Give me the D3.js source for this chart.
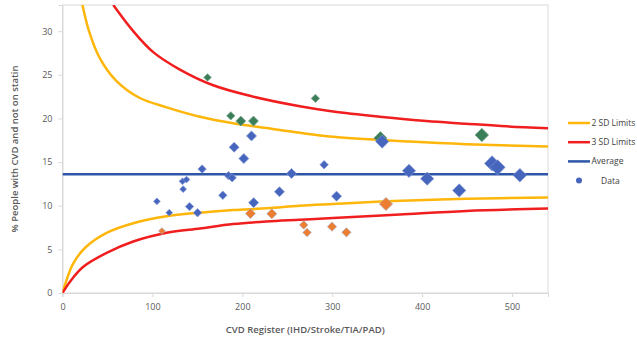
<!DOCTYPE html>
<html>
<head>
<meta charset="UTF-8">
<title>Funnel plot</title>
<script src="https://cdn.jsdelivr.net/npm/d3@7"></script>
<style>
    body { margin: 0; background: #fff; }
    text { font-family: "Open Sans", "Noto Sans", sans-serif; }
    .tick text { fill: #595959; font-size: 9px; }
    .axis-title { fill: #595959; font-size: 9.5px; font-weight: 600; }
    .legend text { fill: #404040; font-size: 8.5px; }
</style>
</head>
<body>
<svg width="637" height="343"></svg>
<script>

// data

var regSize  = [105, 110.6, 118.7, 133.5, 134.2, 137.9, 141.3, 150.2, 155.3, 161.3,
                178.3, 184.6, 188.7, 187.2, 190.9, 198.3, 201.7, 209, 210.2, 212.4,
                212.6, 232.8, 241.3, 254.7, 268.3, 272, 281.3, 291, 299.8, 304.8,
                315.8, 353.6, 355.6, 359.8, 385.4, 405.6, 441.3, 466.4, 477.8, 483.9, 508.7];
var pctNoStatin = [10.5, 7.1, 9.2, 12.8, 11.9, 13.0, 9.9, 9.2, 14.2, 24.7,
                11.2, 13.45, 13.2, 20.3, 16.7, 19.7, 15.4, 9.1, 18.0, 19.7,
                10.35, 9.07, 11.6, 13.7, 7.8, 6.93, 22.3, 14.7, 7.6, 11.1,
                6.95, 17.75, 17.35, 10.2, 14.0, 13.1, 11.75, 18.1, 14.85, 14.4, 13.5];
// marker weight (relative size of the diamond, 1 = smallest)
var weight = [1, 1, 1, 1, 1, 1, 2, 2, 2, 1.5,
                2, 2, 2, 2, 3, 3, 3, 3, 3, 3,
                3, 3, 3, 3, 2, 2, 2, 2, 2.5, 3,
                2.5, 4, 4, 4, 4, 4, 4, 4.2, 5, 5, 4.2];
// "high" = above upper limit, "low" = below lower limit
var group = ["n", "low", "n", "n", "n", "n", "n", "n", "n", "high",
                "n", "n", "n", "high", "n", "high", "n", "low", "n", "high",
                "n", "low", "n", "n", "low", "low", "high", "n", "low", "n",
                "low", "high", "n", "low", "n", "n", "n", "high", "n", "n", "n"];

var average = 13.6;

var upper2x = [22, 29.5, 41, 59, 85, 115, 152.8, 189.8, 227, 264, 301, 386, 449, 540];
var upper2y = [33.1, 30.0, 27.0, 24.4, 22.4, 21.3, 20.2, 19.45, 18.9, 18.35, 17.9, 17.35, 17.05, 16.8];

var upper3x = [56.5, 78.7, 100.9, 130.6, 167.6, 212, 263.9, 300.9, 352.8, 404.7, 449, 493.6, 540];
var upper3y = [33.0, 30.0, 27.6, 25.6, 23.8, 22.5, 21.4, 20.8, 20.2, 19.7, 19.4, 19.1, 18.88];

var lower2x = [0, 4.6, 12, 26.3, 49.1, 78.7, 115.8, 152.8, 189.8, 227, 263.9, 300.9, 360, 449, 540];
var lower2y = [0, 1.5, 3.4, 5.3, 6.9, 8.0, 8.8, 9.2, 9.5, 9.7, 10.0, 10.2, 10.5, 10.8, 10.94];

var lower3x = [0, 8.3, 23.1, 49.1, 78.7, 115.8, 152.8, 189.8, 227, 263.9, 300.9, 375, 449, 540];
var lower3y = [0, 1.3, 3.0, 4.6, 5.9, 6.9, 7.4, 7.9, 8.2, 8.4, 8.6, 9.0, 9.4, 9.68];

var xTicks = [0, 100, 200, 300, 400, 500];
var yTicks = [0, 5, 10, 15, 20, 25, 30];

var legendItems = ["2 SD Limits", "3 SD Limits", "Average", "Data"];

// ---------------------------------------------------------------

var svg = d3.select("svg");

var margin = {left: 62.5, right: 89, top: 5, bottom: 50};
var width = 637 - margin.left - margin.right,
    height = 343 - margin.top - margin.bottom;

var x = d3.scaleLinear().domain([0, 540]).range([0, width]);
var y = d3.scaleLinear().domain([0, 33]).range([height, 0]);
var markerSize = d3.scaleLinear().domain([1, 2, 3, 4, 5]).range([3.4, 4.2, 5, 6.6, 7.6]);

var colors = {n: "#4665bd", high: "#3a7f59", low: "#ed7d31"};
var outline = {n: "#7f93d2", high: "#7fa890", low: "#a9a9b8"};

var g = svg.append("g")
    .attr("transform", "translate(" + margin.left + "," + margin.top + ")");

svg.append("defs").append("clipPath")
    .attr("id", "plotclip")
    .append("rect")
    .attr("width", width)
    .attr("height", height);

// border
g.append("rect")
    .attr("width", width)
    .attr("height", height)
    .attr("fill", "none")
    .attr("stroke", "#d9d9d9")
    .attr("stroke-width", 1);

// axes
var xAxis = g.append("g")
    .attr("transform", "translate(0," + height + ")")
    .call(d3.axisBottom(x).tickValues(xTicks).tickSize(4).tickPadding(7));

var yAxis = g.append("g")
    .call(d3.axisLeft(y).tickValues(yTicks).tickSize(4).tickPadding(6));

[xAxis, yAxis].forEach(function(a) {
    a.select(".domain").attr("stroke", "#d9d9d9");
    a.selectAll(".tick line").attr("stroke", "#d9d9d9");
});

// curves
var plot = g.append("g").attr("clip-path", "url(#plotclip)");

var line = d3.line()
    .x(function(d) { return x(d[0]); })
    .y(function(d) { return y(d[1]); })
    .curve(d3.curveCatmullRom.alpha(0.5));

function pairs(xs, ys) {
    return xs.map(function(v, i) { return [v, ys[i]]; });
}

var curves = [
    {xs: upper2x, ys: upper2y, color: "#ffb60a"},
    {xs: lower2x, ys: lower2y, color: "#ffb60a"},
    {xs: upper3x, ys: upper3y, color: "#f01e1e"},
    {xs: lower3x, ys: lower3y, color: "#f01e1e"}
];

curves.forEach(function(c) {
    plot.append("path")
        .datum(pairs(c.xs, c.ys))
        .attr("d", line)
        .attr("fill", "none")
        .attr("stroke", c.color)
        .attr("stroke-width", 2.5);
});

plot.append("line")
    .attr("x1", x(0))
    .attr("x2", x(540))
    .attr("y1", y(average))
    .attr("y2", y(average))
    .attr("stroke", "#2e56a6")
    .attr("stroke-width", 2.5);

// points
var points = regSize.map(function(v, i) {
    return {x: v, y: pctNoStatin[i], w: weight[i], g: group[i]};
});

plot.selectAll(".pt")
    .data(points)
    .enter().append("path")
    .attr("class", "pt")
    .attr("transform", function(d) { return "translate(" + x(d.x) + "," + y(d.y) + ")"; })
    .attr("d", function(d) {
        var s = markerSize(d.w);
        return "M0," + (-s) + "L" + s + ",0L0," + s + "L" + (-s) + ",0Z";
    })
    .attr("fill", function(d) { return colors[d.g]; })
    .attr("stroke", function(d) { return outline[d.g]; })
    .attr("stroke-width", 0.7);

// axis titles
svg.append("text")
    .attr("class", "axis-title")
    .attr("transform", "translate(15," + (margin.top + height / 2) + ") rotate(-90)")
    .attr("text-anchor", "middle")
    .attr("dy", "0.35em")
    .text("% People with CVD and not on statin");

svg.append("text")
    .attr("class", "axis-title")
    .attr("x", margin.left + width / 2)
    .attr("y", 333)
    .attr("text-anchor", "middle")
    .text("CVD Register (IHD/Stroke/TIA/PAD)");

// legend
var legend = svg.append("g")
    .attr("class", "legend")
    .attr("transform", "translate(568,123)");

var lcolors = ["#ffb60a", "#f01e1e", "#2e56a6"];

legendItems.forEach(function(name, i) {
    var row = legend.append("g").attr("transform", "translate(0," + (i * 19.2) + ")");
    if (i < 3) {
        row.append("line")
            .attr("x1", 0).attr("x2", 22)
            .attr("stroke", lcolors[i])
            .attr("stroke-width", 2.5);
    } else {
        row.append("circle")
            .attr("cx", 11)
            .attr("r", 3)
            .attr("fill", colors.n);
    }
    row.append("text")
        .attr("x", i < 3 ? 23.5 : 33)
        .attr("dy", "0.35em")
        .text(name);
});

</script>
</body>
</html>
